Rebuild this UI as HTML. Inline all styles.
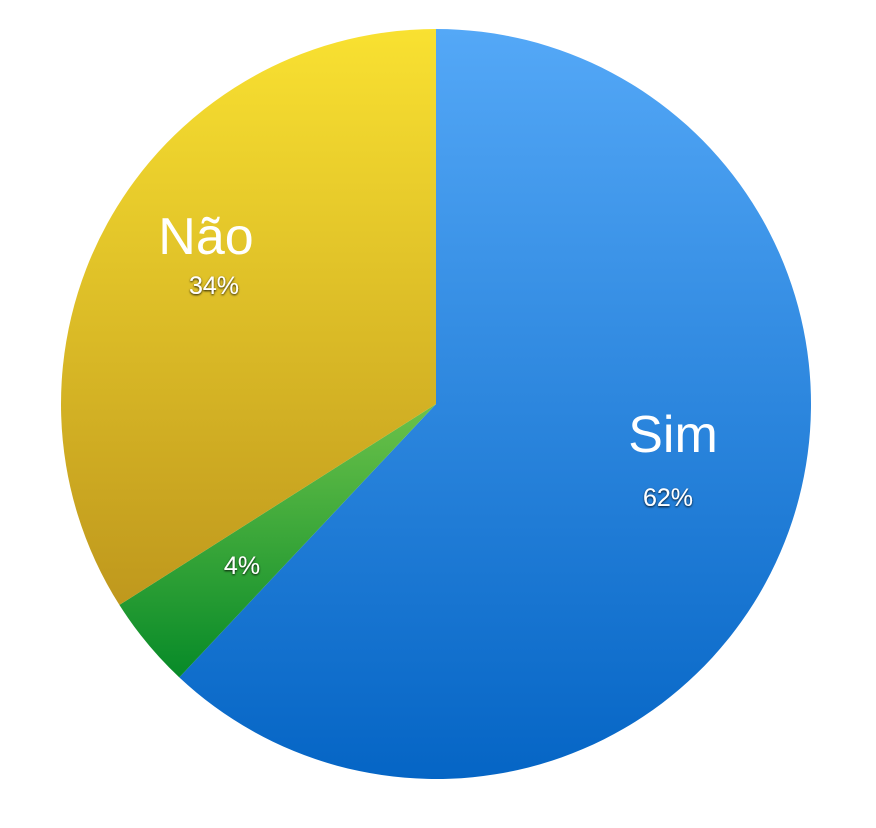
<!DOCTYPE html>
<html><head><meta charset="utf-8"><style>
html,body{margin:0;padding:0;background:#fff;}
svg{display:block;font-family:"Liberation Sans",sans-serif;}
</style></head><body>
<svg width="876" height="828" viewBox="0 0 876 828">
<defs>
<linearGradient id="g0" x1="0" y1="0" x2="0" y2="1"><stop offset="0" stop-color="#54a8f7"/><stop offset="1" stop-color="#0565c5"/></linearGradient>
<linearGradient id="g1" x1="0" y1="0" x2="0" y2="1"><stop offset="0" stop-color="#6cc24a"/><stop offset="1" stop-color="#078a28"/></linearGradient>
<linearGradient id="g2" x1="0" y1="0" x2="0" y2="1"><stop offset="0" stop-color="#f9e131"/><stop offset="1" stop-color="#bf981d"/></linearGradient>
<filter id="sh" x="-20%" y="-20%" width="140%" height="140%"><feDropShadow dx="0" dy="1" stdDeviation="1" flood-color="#000" flood-opacity="0.9"/></filter>
</defs>
<g id="slices"></g>
<g id="labels"></g>
</svg>
<script>
const categories=["Sim","","Não"];
const values=[62,4,34];
const pctLabels=["62%","4%","34%"];
const cx=436,cy=404,r=375;
const grads=["url(#g0)","url(#g1)","url(#g2)"];
const labelPos=[{n:[673,452],p:[668,506]},{n:null,p:[242,574]},{n:[206,254],p:[214,294]}];
const total=values.reduce((a,b)=>a+b,0);
const ns="http://www.w3.org/2000/svg";
const sg=document.getElementById('slices'),lg=document.getElementById('labels');
function pt(a){return [cx+r*Math.sin(a),cy-r*Math.cos(a)];}
let acc=0;
values.forEach((v,i)=>{
  const a0=acc/total*2*Math.PI;acc+=v;const a1=acc/total*2*Math.PI;
  const p0=pt(a0),p1=pt(a1);const large=(a1-a0)>Math.PI?1:0;
  const path=document.createElementNS(ns,'path');
  path.setAttribute('d',`M${cx},${cy}L${p0[0]},${p0[1]}A${r},${r} 0 ${large} 1 ${p1[0]},${p1[1]}Z`);
  path.setAttribute('fill',grads[i]);
  
  
  sg.appendChild(path);
  const lp=labelPos[i];
  if(lp.n&&categories[i]){
    const t=document.createElementNS(ns,'text');
    t.setAttribute('x',lp.n[0]);t.setAttribute('y',lp.n[1]);
    t.setAttribute('text-anchor','middle');t.setAttribute('font-size','52');t.setAttribute('fill','#fff');
    t.textContent=categories[i];
    
    
    lg.appendChild(t);
  }
  const t2=document.createElementNS(ns,'text');
  t2.setAttribute('x',lp.p[0]);t2.setAttribute('y',lp.p[1]);
  t2.setAttribute('text-anchor','middle');t2.setAttribute('font-size','25');t2.setAttribute('fill','#fff');
  t2.setAttribute('filter','url(#sh)');
  t2.textContent=pctLabels[i];
  
  
  lg.appendChild(t2);
});
</script>
</body></html>
